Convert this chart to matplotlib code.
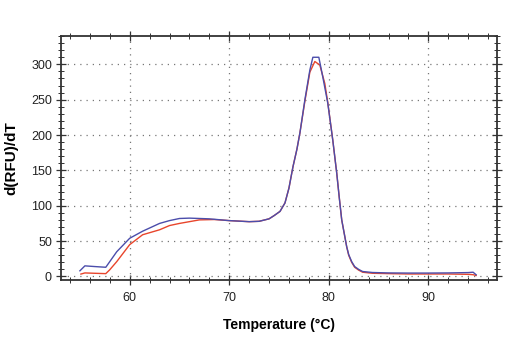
import numpy as np
import matplotlib
matplotlib.use("Agg")
import matplotlib.pyplot as plt
from matplotlib.ticker import MultipleLocator

# melt curve values
temp_blue = [55.0, 55.5, 56.5, 57.6, 58.0, 58.7, 60.0, 61.3, 63.0, 64.0, 65.0, 66.0,
             68.0, 70.0, 72.0, 73.0, 74.0, 74.5, 75.1, 75.6, 76.0, 76.4, 76.8, 77.1,
             77.6, 78.1, 78.4, 79.0, 79.4, 79.9, 80.4, 80.8, 81.05, 81.3, 81.8, 82.0,
             82.3, 82.6, 83.0, 83.4, 84.4, 86.0, 88.0, 89.8, 92.0, 94.0, 94.5, 94.8]
dfdt_blue = [8, 15, 14, 13, 21, 35, 54, 64, 75, 79, 82, 82.5,
             81.5, 79, 77.5, 78, 81.5, 86, 92, 104, 125, 155, 180, 203,
             250, 292, 310, 310, 282, 245, 193, 146, 112, 80, 42, 31,
             21, 14, 10, 7, 5.6, 5, 4.8, 4.8, 5, 5.5, 6, 2.4]

temp_red = [55.1, 55.5, 56.5, 57.6, 58.0, 58.7, 60.0, 61.3, 63.0, 64.0, 65.0, 67.0,
            68.5, 70.0, 72.0, 73.0, 74.0, 74.5, 75.1, 75.6, 76.0, 76.4, 76.8, 77.1,
            77.6, 78.1, 78.6, 79.1, 79.6, 79.9, 80.4, 80.8, 81.05, 81.3, 81.8, 82.0,
            82.3, 82.6, 83.0, 83.4, 84.4, 86.0, 88.0, 90.0, 92.0, 94.0, 94.5, 94.8]
dfdt_red = [3.4, 5, 4.5, 4, 9.5, 21, 45, 59, 66, 72, 75, 80,
            80.5, 79, 77.5, 78, 81.5, 86, 92, 104, 125, 155, 180, 203,
            248, 289, 304, 299, 273, 246, 193, 146, 112, 80, 42, 30,
            20, 13, 9, 6, 4.5, 4, 3.5, 3.5, 3.5, 3, 2.5, 1.4]

plt.rcParams['font.family'] = ['Liberation Sans', 'DejaVu Sans']

fig = plt.figure(figsize=(5.2, 3.5), dpi=100)
ax = fig.add_axes([0.1173, 0.2, 0.8385, 0.697])

ax.plot(temp_red, dfdt_red, color='#e8452c', lw=1.0, zorder=3)
ax.plot(temp_blue, dfdt_blue, color='#4b4dab', lw=1.0, zorder=4)

ax.set_xlim(53.1, 96.9)
ax.set_ylim(-5, 340)
ax.xaxis.set_major_locator(MultipleLocator(10))
ax.xaxis.set_minor_locator(MultipleLocator(2))
ax.yaxis.set_major_locator(MultipleLocator(50))
ax.yaxis.set_minor_locator(MultipleLocator(10))

ax.grid(True, which='major', color='#777777', linestyle=(0, (1, 4)), linewidth=0.9)

for s in ax.spines.values():
    s.set_color('#333333')
    s.set_linewidth(1.3)

ax.tick_params(axis='both', which='major', direction='inout', length=7, width=0.9,
               labelsize=9, colors='#333333', labelcolor='#222222')
ax.tick_params(axis='x', which='major', pad=5)
ax.tick_params(axis='y', which='major', pad=3)
ax.tick_params(axis='both', which='minor', direction='inout', length=4, width=0.7,
               colors='#333333')
ax.tick_params(which='both', top=True, right=True)

ax.set_xlabel('Temperature (°C)', fontsize=10, fontweight='bold', labelpad=10)
ax.set_ylabel('d(RFU)/dT', fontsize=11, fontweight='bold', labelpad=9)

fig.savefig('out.png', dpi=100)
